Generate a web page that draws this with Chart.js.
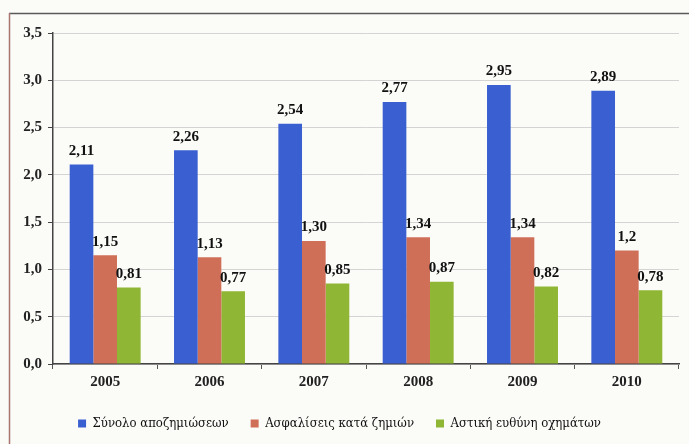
<!DOCTYPE html>
<html>
<head>
  <title>Αποζημιώσεις</title>
  <script src="https://cdn.jsdelivr.net/npm/chart.js"></script>
  <style>
    body { margin: 0; background: #fbfbf8; }
    #wrap { width: 689px; height: 444px; }
  </style>
</head>
<body>
  <div id="wrap"><canvas id="claimsChart" width="689" height="444"></canvas></div>
  <script>
    const years = ["2005", "2006", "2007", "2008", "2009", "2010"];
    const totalClaims = [2.11, 2.26, 2.54, 2.77, 2.95, 2.89];
    const damageInsurance = [1.15, 1.13, 1.30, 1.34, 1.34, 1.2];
    const vehicleLiability = [0.81, 0.77, 0.85, 0.87, 0.82, 0.78];
    // labels as printed on the original (one value keeps a single decimal)
    const totalLabels = ["2,11", "2,26", "2,54", "2,77", "2,95", "2,89"];
    const damageLabels = ["1,15", "1,13", "1,30", "1,34", "1,34", "1,2"];
    const liabilityLabels = ["0,81", "0,77", "0,85", "0,87", "0,82", "0,78"];
    const seriesNames = ["Σύνολο αποζημιώσεων", "Ασφαλίσεις κατά ζημιών", "Αστική ευθύνη οχημάτων"];

    const serif = "Liberation Serif";
    const greekSerif = "'DejaVu Serif Condensed', 'DejaVu Serif', serif";
    Chart.defaults.font.family = serif;

    // page frame + off-white paper
    const paper = {
      id: "paper",
      beforeDraw(chart) {
        const c = chart.ctx;
        c.save();
        c.fillStyle = "#fbfbf8";
        c.fillRect(0, 0, chart.width, chart.height);
        c.lineWidth = 1.5;
        c.strokeStyle = "#5a5a5a";
        c.beginPath();
        c.moveTo(9, 13.5);
        c.lineTo(chart.width, 13.5);
        c.stroke();
        c.strokeStyle = "#a8766e";
        c.beginPath();
        c.moveTo(9.5, 13);
        c.lineTo(9.5, chart.height);
        c.stroke();
        c.restore();
      }
    };

    // value labels above each bar
    const valueLabels = {
      id: "valueLabels",
      afterDatasetsDraw(chart) {
        const c = chart.ctx;
        c.save();
        c.font = "bold 15px " + serif;
        c.fillStyle = "#111";
        c.textAlign = "center";
        c.textBaseline = "bottom";
        chart.data.datasets.forEach((ds, i) => {
          chart.getDatasetMeta(i).data.forEach((bar, j) => {
            c.fillText(ds.valueText[j], bar.x, bar.y - 6);
          });
        });
        c.restore();
      }
    };

    new Chart(document.getElementById("claimsChart"), {
      type: "bar",
      data: {
        labels: years,
        datasets: [
          { label: seriesNames[0], data: totalClaims, valueText: totalLabels, backgroundColor: "#3a5fd0" },
          { label: seriesNames[1], data: damageInsurance, valueText: damageLabels, backgroundColor: "#d06f58" },
          { label: seriesNames[2], data: vehicleLiability, valueText: liabilityLabels, backgroundColor: "#8fb634" }
        ]
      },
      options: {
        responsive: false,
        animation: false,
        layout: { padding: { top: 33, right: 10, left: 0, bottom: 4 } },
        datasets: { bar: { categoryPercentage: 0.68, barPercentage: 1.0 } },
        plugins: {
          tooltip: { enabled: false },
          legend: {
            position: "bottom",
            labels: {
              font: { family: greekSerif, size: 13 },
              color: "#111",
              boxWidth: 8,
              boxHeight: 8,
              padding: 22
            }
          }
        },
        scales: {
          x: {
            grid: { drawOnChartArea: false, drawTicks: true, tickLength: 5, color: "#555" },
            border: { color: "#444", width: 1.5 },
            ticks: { font: { family: serif, size: 15, weight: "bold" }, color: "#222", padding: 4 }
          },
          y: {
            min: 0,
            max: 3.5,
            afterFit(scale) { scale.width = 53; },
            grid: { color: "#d4d4d4", tickColor: "#444", tickLength: 5 },
            border: { color: "#444", width: 1.5 },
            ticks: {
              stepSize: 0.5,
              font: { family: serif, size: 15, weight: "bold" },
              color: "#222",
              padding: 6,
              callback: v => v.toFixed(1).replace(".", ",")
            }
          }
        }
      },
      plugins: [paper, valueLabels]
    });
  </script>
</body>
</html>
